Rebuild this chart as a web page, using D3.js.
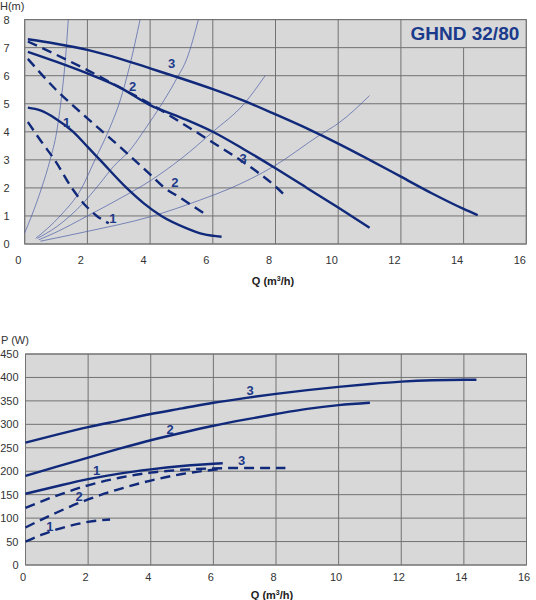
<!DOCTYPE html>
<html><head><meta charset="utf-8">
<script src="https://cdn.jsdelivr.net/npm/d3@7/dist/d3.min.js"></script>
<style>body{margin:0;background:#fff}svg{display:block}text{font-family:"Liberation Sans",Arial,sans-serif}</style>
</head><body>
<svg id="c" width="536" height="600"></svg>
<script>
// ---------- data ----------
const qTicks = [0,2,4,6,8,10,12,14,16];
const hTicks = [0,1,2,3,4,5,6,7,8];
const pTicks = [0,50,100,150,200,250,300,350,400,450];
const title = "GHND 32/80";

// H(Q) curves, speed 1..3 (solid = max, dashed = min setting)
const hSolid3 = [[0.1,7.3],[1,7.14],[2,6.92],[3,6.62],[4,6.26],[5,5.9],[6,5.52],[7,5.1],[8,4.62],[9,4.12],[10,3.58],[11,3.0],[12,2.4],[13,1.8],[14,1.25],[14.45,1.03]];
const hSolid2 = [[0.1,6.85],[1,6.5],[2,6.08],[3,5.6],[4,4.95],[5,4.5],[6,4.0],[7,3.37],[8,2.7],[9,2.0],[10,1.3],[11,0.58]];
const hSolid1 = [[0.1,4.86],[0.5,4.76],[1,4.46],[1.55,4.0],[2,3.47],[2.4,3.0],[3.25,2.0],[3.8,1.45],[4.36,1.0],[5.17,0.56],[5.7,0.35],[6.28,0.26]];
const hDash3 = [[0.1,7.22],[1,6.75],[2,6.2],[3,5.6],[4,5.0],[5,4.32],[6,3.62],[7,2.9],[8,2.05],[8.35,1.68]];
const hDash2 = [[0.1,6.6],[1,5.5],[2,4.48],[3,3.5],[4,2.48],[4.42,2.04],[5,1.62],[5.85,1.0]];
const hDash1 = [[0.1,4.35],[0.5,3.7],[1,2.92],[1.5,2.0],[2,1.3],[2.3,1.0],[2.68,0.74]];

// system curves (thin)
const sys1 = [[0,0.4],[0.22,1],[0.54,2],[0.81,3],[1.02,4],[1.18,5.3],[1.3,6.6],[1.39,8]];
const sys2 = [[0.35,0.2],[1.13,1],[1.82,2],[2.24,3],[2.7,4.1],[3.04,5.1],[3.36,6.4],[3.68,8]];
const sys3 = [[0.4,0.2],[1,0.6],[1.9,1.5],[2.4,2.16],[2.83,2.76],[3.36,3.35],[3.89,4.18],[4.32,4.9],[4.85,5.9],[5.17,6.6],[5.54,8]];
const sys4 = [[0.45,0.15],[1,0.42],[2,1.0],[3,1.6],[4,2.25],[5,3.05],[6,4.0],[7,5.0],[7.67,6.0]];
const sys5 = [[0.5,0.1],[2,0.45],[4,0.97],[5.6,1.57],[6.55,1.98],[7.93,2.76],[9.42,3.89],[10,4.3],[11,5.29]];

// P(Q) curves
const pSolid3 = [[0,261],[1,278],[2,294],[3,308],[4,322],[5,334],[6,346],[7,356],[8,365],[9,373],[10,380],[11,386],[12,391],[13,394],[14,395],[14.4,395]];
const pSolid2 = [[0,190],[1,210],[2,229],[3,248],[4,266],[5,282],[6,297],[7,310],[8,322],[9,333],[10,341],[11,346]];
const pSolid1 = [[0,152],[1,168],[2,183],[3,195],[4,204],[5,211],[6,216],[6.3,217]];
const pDash3 = [[0,122],[1,148],[2,170],[3,186],[4,197],[5,203],[6,206],[7,207],[8,207],[8.3,207]];
const pDash2 = [[0,80],[1,112],[2,140],[3,162],[4,180],[5,194],[6,203],[6.3,205]];
const pDash1 = [[0,50],[0.5,64],[1,76],[1.5,85],[2,92],[2.7,97]];

// curve labels [x, y, text]
const hLabels = [[4.69,6.44,"3"],[3.44,5.63,"2"],[1.34,4.36,"1"],[6.97,3.05,"3"],[4.79,2.22,"2"],[2.81,0.92,"1"]];
const pLabels = [[7.17,373,"3"],[4.62,291,"2"],[2.27,203,"1"],[6.9,224,"3"],[1.71,148,"2"],[0.78,83,"1"]];

// ---------- drawing ----------
const svg = d3.select("#c");
const NAVY = "#10297a";
const BG = "#d8d8d8";
const GRID = "#727272";

function panel(o){
  const x = d3.scaleLinear().domain([0,16]).range([o.x0,o.x1]);
  const y = d3.scaleLinear().domain([0,o.ymax]).range([o.y0,o.y1]);
  const g = svg.append("g");
  g.append("rect").attr("x",o.x0).attr("y",o.y1).attr("width",o.x1-o.x0).attr("height",o.y0-o.y1).attr("fill",BG);
  g.append("g").selectAll("line").data(qTicks).join("line")
    .attr("x1",d=>x(d)).attr("x2",d=>x(d)).attr("y1",o.y0)
    .attr("y2",d=>(o.box && d>o.box[0] && d<16)? y(o.box[1]) : o.y1)
    .attr("stroke",GRID).attr("stroke-width",1);
  g.append("g").selectAll("line").data(o.yTicks).join("line")
    .attr("y1",d=>y(d)).attr("y2",d=>y(d)).attr("x1",o.x0).attr("x2",o.x1)
    .attr("stroke",GRID).attr("stroke-width",1);
  g.append("rect").attr("x",o.x0).attr("y",o.y1).attr("width",o.x1-o.x0).attr("height",o.y0-o.y1)
    .attr("fill","none").attr("stroke",GRID).attr("stroke-width",1);
  g.append("g").selectAll("text").data(qTicks).join("text")
    .attr("x",d=>x(d)+o.xlOff).attr("y",o.xlY).attr("text-anchor","middle")
    .attr("font-size",11).attr("fill","#333").text(d=>d);
  g.append("g").selectAll("text").data(o.yTicks).join("text")
    .attr("x",o.ylX).attr("y",d=>y(d)+4).attr("text-anchor","end")
    .attr("font-size",11).attr("fill","#333").text(d=>d);
  return {x,y,g};
}

function drawCurves(p, list){
  const line = d3.line().x(d=>p.x(d[0])).y(d=>p.y(d[1])).curve(d3.curveMonotoneX);
  list.forEach(c=>{
    p.g.append("path").attr("d",line(c.data)).attr("fill","none")
      .attr("stroke",c.color||NAVY).attr("stroke-width",c.w||2.4)
      .attr("stroke-dasharray",c.dash||null);
  });
}
function drawLabels(p, labels){
  p.g.append("g").selectAll("text").data(labels).join("text")
    .attr("x",d=>p.x(d[0])).attr("y",d=>p.y(d[1])+5).attr("text-anchor","middle")
    .attr("font-size",13).attr("font-weight","bold").attr("fill","#1d3a8a").text(d=>d[2]);
}

// top panel: H
const hPanel = panel({x0:24.7,x1:526.3,y0:244,y1:19.6,ymax:8,yTicks:hTicks,xlOff:-6.5,xlY:264,ylX:9.5,box:[12,7]});
drawCurves(hPanel,[
  {data:sys1,color:"#4a5fa8",w:0.7},{data:sys2,color:"#4a5fa8",w:0.7},{data:sys3,color:"#4a5fa8",w:0.7},
  {data:sys4,color:"#4a5fa8",w:0.7},{data:sys5,color:"#4a5fa8",w:0.7},
  {data:hSolid3},{data:hSolid2},{data:hSolid1},
  {data:hDash3,dash:"10,6"},{data:hDash2,dash:"10,6"},{data:hDash1,dash:"10,6"}
]);
drawLabels(hPanel,hLabels);
hPanel.g.append("text").attr("x",hPanel.x(16)-7).attr("y",40).attr("text-anchor","end")
  .attr("font-size",19).attr("font-weight","bold").attr("fill","#1a3a8c").text(title);
svg.append("text").attr("x",0).attr("y",10).attr("font-size",11).attr("fill","#333").text("H(m)");
svg.append("text").attr("x",273).attr("y",285).attr("text-anchor","middle").attr("font-size",11).attr("font-weight","bold").attr("fill","#222")
  .html("Q (m<tspan dy='-4' font-size='7'>3</tspan><tspan dy='4'>/h)</tspan>");

// bottom panel: P
const pPanel = panel({x0:25.5,x1:526.5,y0:565,y1:354,ymax:450,yTicks:pTicks,xlOff:-2.5,xlY:581,ylX:18.5});
drawCurves(pPanel,[
  {data:pSolid3},{data:pSolid2},{data:pSolid1},
  {data:pDash3,dash:"10,6"},{data:pDash2,dash:"10,6"},{data:pDash1,dash:"10,6"}
]);
drawLabels(pPanel,pLabels);
svg.append("text").attr("x",1).attr("y",344).attr("font-size",11).attr("fill","#333").text("P (W)");
svg.append("text").attr("x",272).attr("y",599).attr("text-anchor","middle").attr("font-size",11).attr("font-weight","bold").attr("fill","#222")
  .html("Q (m<tspan dy='-4' font-size='7'>3</tspan><tspan dy='4'>/h)</tspan>");
</script>
</body></html>
